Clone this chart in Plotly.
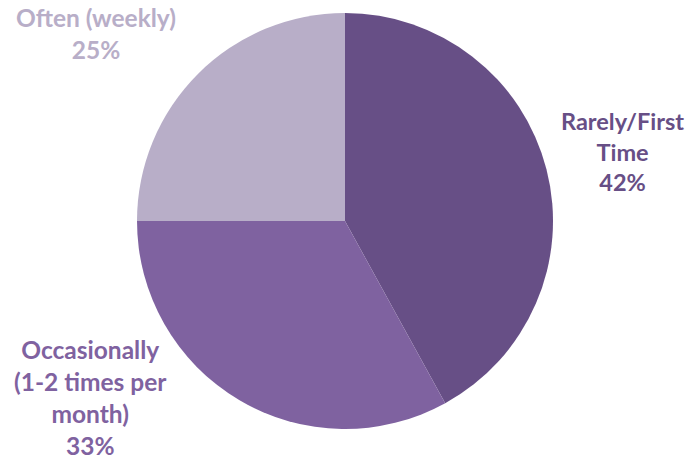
import plotly.graph_objects as go

categories = ["Rarely/First Time", "Occasionally (1-2 times per month)", "Often (weekly)"]
values = [42, 33, 25]
label_lines = ["Rarely/First<br>Time", "Occasionally<br>(1-2 times per<br>month)", "Often (weekly)"]
colors = ["#674F86", "#7F62A0", "#B8AEC8"]

W, H = 696, 462
OFF = 8  # page body margin offset
fig = go.Figure(go.Pie(
    labels=categories, values=values, sort=False, direction="clockwise",
    marker=dict(colors=colors, line=dict(width=0)),
    textinfo="none", hoverinfo="label+percent", showlegend=False,
    domain=dict(x=[(137 - OFF) / W, (553 - OFF) / W],
                y=[(H - 429 + OFF) / H, (H - 13 + OFF) / H]),
))

label_pos = [(622, 151), (90, 397), (96, 33)]
sizes = [23.5, 24.5, 24.5]
total = sum(values)
for txt, v, c, (px, py), s in zip(label_lines, values, colors, label_pos, sizes):
    fig.add_annotation(
        x=(px - OFF) / W, y=1 - (py - OFF) / H, xref="paper", yref="paper",
        text=f"{txt}<br>{round(100 * v / total)}%", showarrow=False,
        font=dict(family="Lato", size=s, color=c, weight="bold"),
        align="center", xanchor="center", yanchor="middle",
    )

fig.update_layout(width=W, height=H, margin=dict(l=0, r=0, t=0, b=0),
                  paper_bgcolor="white", plot_bgcolor="white")
fig.write_html("out.html")
